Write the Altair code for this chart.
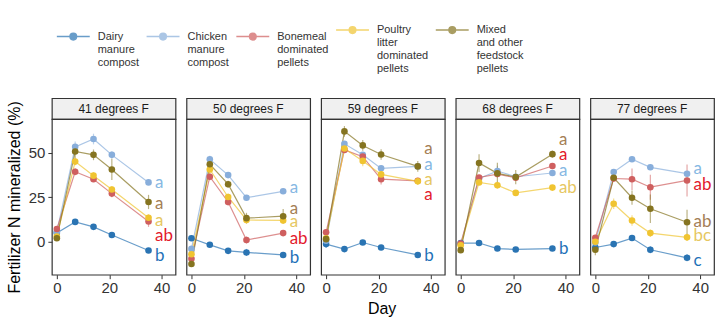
import altair as alt
import pandas as pd

days = [0, 7, 14, 21, 35]
temps = ["41 degrees F", "50 degrees F", "59 degrees F", "68 degrees F", "77 degrees F"]
series = [
    "Dairy|manure|compost",
    "Chicken|manure|compost",
    "Bonemeal|dominated|pellets",
    "Poultry|litter|dominated|pellets",
    "Mixed|and other|feedstock|pellets",
]
line_colors = ["#2a74b3", "#88aedb", "#cf5f5f", "#f0c431", "#857420"]
letter_colors = ["#1f72b8", "#86b8e3", "#e3192b", "#e6c762", "#a47e55"]

# mean values [temp][series][day]
values = {
    "41 degrees F": [
        [5, 11.2, 8.4, 3.8, -4.9],
        [5.5, 53.4, 57.8, 48.9, 33.4],
        [7.2, 39.4, 35.2, 27.1, 11.4],
        [3, 45.1, 37.2, 29.4, 13.5],
        [2, 50.8, 48.9, 40.7, 22.4],
    ],
    "50 degrees F": [
        [2, -1.7, -5.1, -6, -7.4],
        [-4, 46.4, 37.5, 24.8, 28.4],
        [-9.5, 36.6, 22.4, 1, 4.9],
        [-7, 40.7, 25.2, 12.3, 12],
        [-12.5, 43.6, 32.4, 13.3, 14.4],
    ],
    "59 degrees F": [
        [-1.3, -4.1, -0.4, -3.2, -7.4],
        [0.6, 55.1, 48.9, 41.3, 42.4],
        [5.3, 51.7, 47.9, 35.2, 34.3],
        [1.9, 52.5, 45.5, 37.9, 34],
        [1.5, 62.1, 54.2, 49.1, 42.4],
    ],
    "68 degrees F": [
        [-0.7, -0.7, -3.8, -4.3, -3.8],
        [-1.3, 35.6, 39.8, 36.6, 38.7],
        [-1, 36.2, 38.1, 36, 42.6],
        [-2, 33.4, 31.8, 27.5, 30.5],
        [-4.7, 44.3, 38.5, 36.4, 49.3],
    ],
    "77 degrees F": [
        [-3.2, -1.3, 2.1, -4.5, -9],
        [-0.4, 39.2, 46.4, 41.9, 38.3],
        [2.3, 35.6, 35.2, 30.7, 34.5],
        [0, 21.4, 12, 4.9, 2.5],
        [-4.5, 36, 24.8, 18.6, 11],
    ],
}
# error half widths
errors = {
    "41 degrees F": [
        [1, 1, 1, 1, 1],
        [1, 3, 3, 2, 1],
        [1, 2, 1, 2, 3],
        [1, 2, 2, 2, 2],
        [1, 4, 3, 6, 4],
    ],
    "50 degrees F": [
        [1, 1, 1, 2, 1],
        [1, 2, 1, 1, 1],
        [1, 2, 2, 2, 1],
        [1, 2, 2, 2, 2],
        [1, 2, 2, 3, 4],
    ],
    "59 degrees F": [
        [2, 1, 1, 1, 1],
        [1, 1, 1, 1, 1],
        [1, 1, 2, 3, 1],
        [1, 1, 3, 2, 2],
        [1, 3, 3, 3, 3],
    ],
    "68 degrees F": [
        [1, 1, 1, 1, 1],
        [1, 1, 3, 1, 1],
        [1, 1, 2, 1, 1],
        [1, 1, 2, 1, 1],
        [1, 5, 6, 4, 2],
    ],
    "77 degrees F": [
        [2, 1, 1, 2, 2],
        [1, 1, 1, 1, 1],
        [1, 2, 6, 7, 9],
        [1, 3, 3, 2, 2],
        [3, 2, 4, 8, 7],
    ],
}
# significance letters: (series index, letter, y)
letters = {
    "41 degrees F": [(1, "a", 33), (4, "a", 21.5), (3, "a", 11.6), (2, "ab", 3), (0, "b", -8)],
    "50 degrees F": [(1, "a", 30), (4, "a", 18.2), (3, "a", 11), (2, "ab", 1.5), (0, "b", -9.3)],
    "59 degrees F": [(4, "a", 52.3), (1, "a", 43.2), (3, "a", 34.7), (2, "a", 26.5), (0, "b", -8)],
    "68 degrees F": [(4, "a", 57.4), (2, "a", 48.9), (1, "a", 40), (3, "ab", 30.3), (0, "b", -3.8)],
    "77 degrees F": [(1, "a", 41), (2, "ab", 31.8), (4, "ab", 11.4), (3, "bc", 3), (0, "c", -10.8)],
}
LETTER_DAY = 37.5

rows = []
for t in temps:
    for si, s in enumerate(series):
        for di, d in enumerate(days):
            v = values[t][si][di]
            e = errors[t][si][di]
            rows.append({"temp": t, "series": s, "day": d, "value": v,
                         "lo": v - e, "hi": v + e})
df = pd.DataFrame(rows)

lrows = []
for t in temps:
    for si, lab, yv in letters[t]:
        lrows.append({"temp": t, "series": series[si], "letter": lab, "ly": yv,
                      "lcolor": letter_colors[si]})
ldf = pd.DataFrame(lrows)

FONT = "Liberation Sans"
PW, PH = 124, 156

color = alt.Color(
    "series:N",
    scale=alt.Scale(domain=series, range=line_colors),
    legend=alt.Legend(
        title=None,
        orient="none",
        direction="horizontal",
        legendX=4,
        legendY=-86,
        labelExpr="split(datum.label, '|')",
        symbolType="M-1,0L1,0M0.2,0A0.2,0.2,0,1,1,-0.2,0A0.2,0.2,0,1,1,0.2,0Z",
        symbolSize=1089,
        symbolStrokeWidth=1.5,
        labelFont=FONT,
        labelFontSize=11,
        labelColor="#333333",
        labelOffset=7,
        labelLimit=0,
        columnPadding=4,
    ),
)

xscale = alt.Scale(domain=[-1.9, 45.3], nice=False, zero=False)
yscale = alt.Scale(domain=[-18.5, 69], nice=False, zero=False)

xaxis = alt.Axis(values=[0, 10, 20, 30, 40], title=None, grid=False, domain=False,
                 tickSize=4, tickColor="#333333", labelFontSize=15, labelColor="#333333",
                 labelFont=FONT, labelPadding=2, labelFlush=False, labelOverlap=False)
yaxis = alt.Axis(values=[0, 25, 50], title="Fertilizer N mineralized (%)", grid=False,
                 domain=False, tickSize=4, tickColor="#333333", labelFontSize=15,
                 labelColor="#333333", labelFont=FONT, labelPadding=3,
                 titleFont=FONT, titleFontSize=16, titleFontWeight="normal",
                 titleColor="#000000", titlePadding=6, labelOverlap=False)


def panel(i):
    t = temps[i]
    d = df[df.temp == t]
    base = alt.Chart(d)
    x = alt.X("day:Q", scale=xscale, axis=xaxis)
    y = alt.Y("value:Q", scale=yscale, axis=yaxis if i == 0 else None)
    lines = base.mark_line(strokeWidth=1.2, opacity=0.7).encode(x=x, y=y, color=color)
    bars = base.mark_rule(strokeWidth=1.2, opacity=0.55).encode(
        x="day:Q", y="lo:Q", y2="hi:Q", color=alt.Color("series:N", legend=None))
    pts = base.mark_circle(size=44, opacity=1).encode(x="day:Q", y="value:Q",
                                                      color=alt.Color("series:N", legend=None))
    txt = alt.Chart(ldf[ldf.temp == t]).mark_text(
        align="left", baseline="middle", font="Lato", fontSize=17
    ).encode(x=alt.datum(LETTER_DAY), y="ly:Q", text="letter:N",
             color=alt.Color("lcolor:N", scale=None))
    plot = alt.layer(lines, bars, pts, txt).properties(
        width=PW, height=PH,
        view=alt.ViewBackground(fill="white", stroke="#333333", strokeWidth=1.2))
    strip = alt.Chart(pd.DataFrame({"t": [t]})).mark_text(
        font=FONT, fontSize=12, color="#1a1a1a"
    ).encode(text="t:N").properties(
        width=PW, height=21,
        view=alt.ViewBackground(fill="#f0f0f0", stroke="#333333", strokeWidth=1.2))
    return alt.vconcat(strip, plot, spacing=0, bounds="flush")


chart = alt.hconcat(*[panel(i) for i in range(5)], spacing=9).properties(
    title=alt.TitleParams("Day", orient="bottom", anchor="middle", font=FONT,
                          fontSize=16, fontWeight="normal", color="#000000", dx=22,
                          offset=5),
    padding={"left": 5, "top": 12, "right": 5, "bottom": 5},
).configure_view(stroke=None).configure(background="white")

chart.save("out.html", embed_options={"renderer": "svg", "actions": False})
